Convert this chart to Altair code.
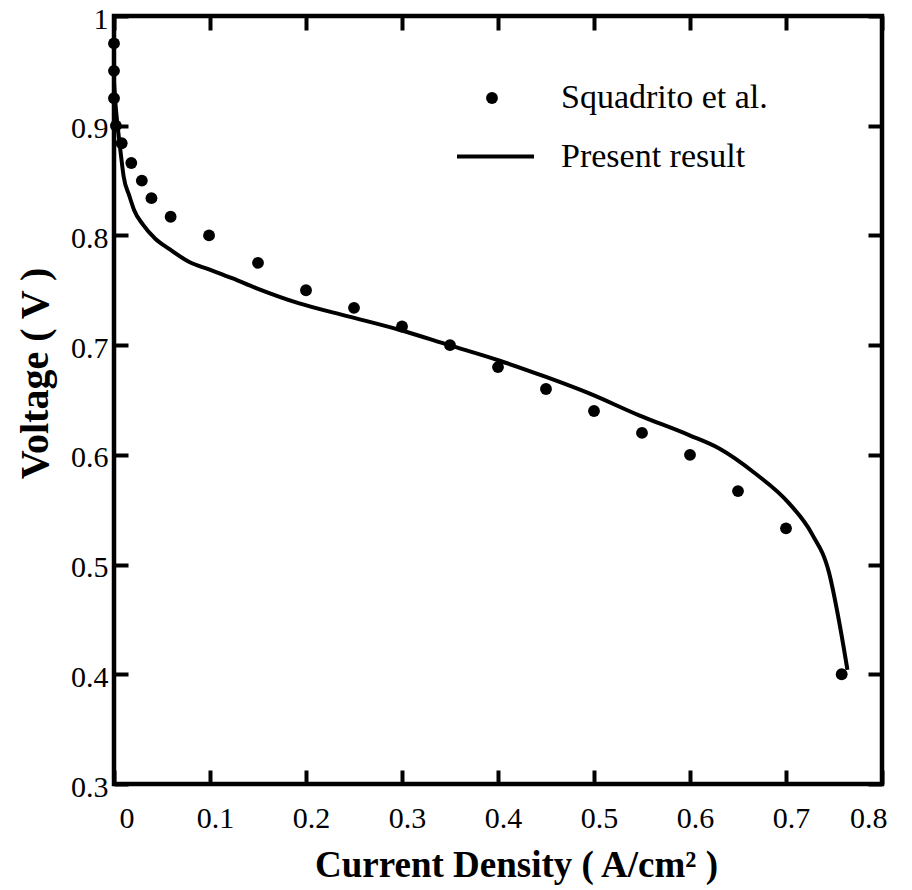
import altair as alt
import pandas as pd

# Experimental data (Squadrito et al.)
exp_j = [0.0, 0.0, 0.0, 0.002, 0.008, 0.018, 0.029, 0.039, 0.059, 0.099, 0.15, 0.2,
         0.25, 0.3, 0.35, 0.4, 0.45, 0.5, 0.55, 0.6, 0.65, 0.7, 0.758]
exp_v = [0.975, 0.95, 0.925, 0.9, 0.884, 0.866, 0.85, 0.834, 0.817, 0.8, 0.775, 0.75,
         0.734, 0.717, 0.7, 0.68, 0.66, 0.64, 0.62, 0.6, 0.567, 0.533, 0.4]

# Model curve (Present result)
model_j = [0.0, 0.002, 0.0035, 0.007, 0.010, 0.016, 0.021, 0.030, 0.043, 0.057, 0.078,
           0.099, 0.123, 0.148, 0.193, 0.245, 0.297, 0.349, 0.401, 0.45, 0.495, 0.547,
           0.599, 0.63, 0.668, 0.703, 0.727, 0.745, 0.753, 0.76, 0.764]
model_v = [0.94, 0.915, 0.902, 0.875, 0.854, 0.836, 0.823, 0.810, 0.797, 0.788, 0.776,
           0.769, 0.761, 0.752, 0.738, 0.726, 0.714, 0.70, 0.686, 0.671, 0.656, 0.636,
           0.618, 0.606, 0.583, 0.556, 0.528, 0.492, 0.459, 0.425, 0.404]

x_ticks = [0, 0.1, 0.2, 0.3, 0.4, 0.5, 0.6, 0.7, 0.8]
y_ticks = [0.3, 0.4, 0.5, 0.6, 0.7, 0.8, 0.9, 1.0]

exp_label = "Squadrito et al."
model_label = "Present result"

df_exp = pd.DataFrame({"j": exp_j, "v": exp_v, "series": exp_label})
df_model = pd.DataFrame({"j": model_j, "v": model_v, "model": model_label,
                         "idx": list(range(len(model_j)))})

FONT = "Liberation Serif"
xscale = alt.Scale(domain=[0, 0.8], nice=False, zero=False)
yscale = alt.Scale(domain=[0.3, 1.0], nice=False, zero=False)

tick_common = dict(domain=False, grid=False, ticks=True, tickSize=14, offset=-14,
                   tickWidth=4, tickColor="black", labelFont=FONT, labelColor="black")

x_axis_main = alt.Axis(orient="bottom", values=x_ticks, labelFontSize=30,
                       labelPadding=19, labelOffset=5, format="~g",
                       title="Current Density ( A/cm² )", titleFont=FONT,
                       titleFontSize=37, titleFontWeight="bold", titleColor="black",
                       titlePadding=14, titleX=402, **tick_common)
y_axis_main = alt.Axis(orient="left", values=y_ticks, labelFontSize=30,
                       labelPadding=6, labelOffset=3, format="~g",
                       title="Voltage ( V )", titleFont=FONT,
                       titleFontSize=40, titleFontWeight="bold", titleColor="black",
                       titlePadding=15, titleY=357, **tick_common)
x_axis_top = alt.Axis(orient="top", values=x_ticks, labels=False, title="", **tick_common)
y_axis_right = alt.Axis(orient="right", values=y_ticks, labels=False, title="", **tick_common)

line = alt.Chart(df_model).mark_line(strokeWidth=4, color="black",
                                     interpolate="monotone").encode(
    x=alt.X("j:Q", scale=xscale, axis=x_axis_main),
    y=alt.Y("v:Q", scale=yscale, axis=y_axis_main),
    order="idx:Q",
    color=alt.Color("model:N",
                    scale=alt.Scale(domain=[model_label], range=["black"]),
                    legend=alt.Legend(orient="none", legendX=341, legendY=100,
                                      title=None, padding=0, labelLimit=0,
                                      symbolType="stroke", symbolSize=5929,
                                      symbolStrokeWidth=4, symbolStrokeColor="black",
                                      labelFont=FONT, labelFontSize=34,
                                      labelColor="black", labelOffset=25)),
)

points = alt.Chart(df_exp).mark_point(filled=True, size=140, opacity=1).encode(
    x=alt.X("j:Q", scale=xscale, axis=x_axis_top),
    y=alt.Y("v:Q", scale=yscale, axis=y_axis_right),
    color=alt.Color("series:N",
                    scale=alt.Scale(domain=[exp_label], range=["black"]),
                    legend=alt.Legend(orient="none", legendX=361, legendY=65,
                                      title=None, padding=0, labelLimit=0,
                                      symbolType="circle", symbolSize=140,
                                      symbolStrokeWidth=0, symbolOpacity=1,
                                      labelFont=FONT, labelFontSize=34,
                                      labelColor="black", labelOffset=52)),
)

chart = alt.layer(line, points).resolve_axis(
    x="independent", y="independent"
).resolve_scale(color="independent").properties(
    width=768, height=768,
    autosize=alt.AutoSizeParams(type="none"),
    padding={"left": 106, "top": 8, "right": 22, "bottom": 106},
    background="white",
).configure_view(stroke="black", strokeWidth=4.5)

chart.save("out.html", embed_options={"renderer": "svg", "actions": False})
